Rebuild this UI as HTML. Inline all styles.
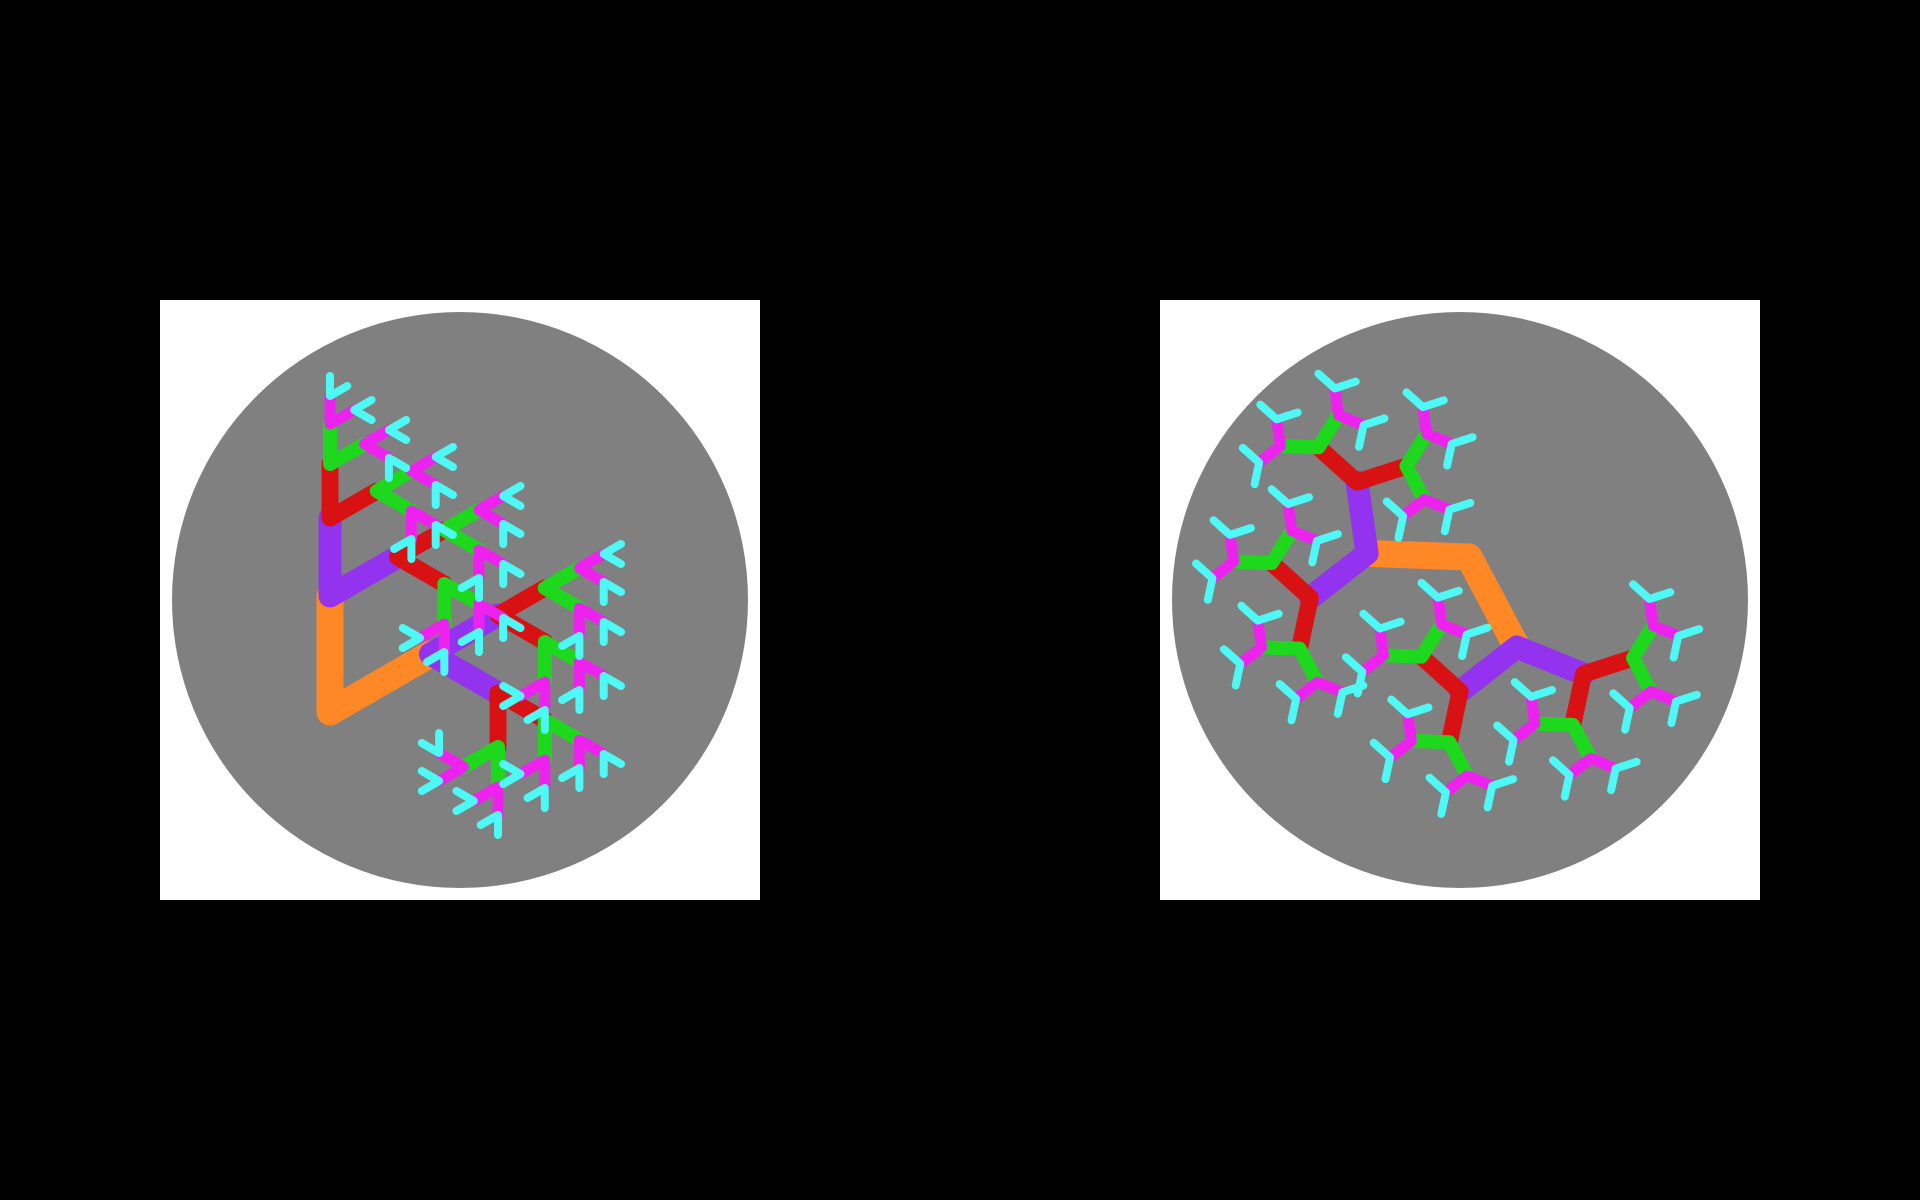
<!DOCTYPE html>
<html><head><meta charset="utf-8">
<style>
html,body{margin:0;padding:0;background:#000;}
svg{display:block;}
</style></head>
<body>
<svg id="chart" width="1920" height="1200" viewBox="0 0 1920 1200" xmlns="http://www.w3.org/2000/svg">
  <rect x="0" y="0" width="1920" height="1200" fill="#000"/>
  <rect x="160" y="300" width="600" height="600" fill="#fff"/>
  <circle cx="460" cy="600" r="288" fill="#808080"/>
  <rect x="1160" y="300" width="600" height="600" fill="#fff"/>
  <circle cx="1460" cy="600" r="288" fill="#808080"/>
  <g id="left-tree"></g>
  <g id="right-tree"></g>
</svg>
<script>
const levelColors = ["#ff8826","#9333f0","#d81212","#1ed81e","#ee22ee","#4ef8f4"];
const levelWidths = [27,23,17,14,11,8];
const leftLengths = [116,78,54,40,28,20];
const rightLengths = [102,72,52,38,27,22];
const leftRoot = [330,712];
const rightRoot = [1469,557];

const NS = "http://www.w3.org/2000/svg";
const levels = levelColors.map(()=>[]);

function seg(x1,y1,a,len){
  const r = a*Math.PI/180;
  return [x1,y1,x1+len*Math.cos(r),y1-len*Math.sin(r)];
}

function leftV(x,y,th,lvl){
  if(lvl>=levelColors.length) return;
  const L = leftLengths[lvl];
  const s1 = seg(x,y,th,L), s2 = seg(x,y,th-60,L);
  levels[lvl].push({g:'left',p:[x,y,s1,s2]});
  leftV(s1[2],s1[3],th,lvl+1);
  leftV(s2[2],s2[3],th-60,lvl+1);
}
leftV(leftRoot[0],leftRoot[1],90,0);

function rightY(x,y,inc,lvl){
  if(lvl>=levelColors.length) return;
  const L = rightLengths[lvl];
  const b = inc-20;
  const s1 = seg(x,y,b+60,L), s2 = seg(x,y,b-60,L);
  levels[lvl].push({g:'right',p:[x,y,s1,s2]});
  rightY(s1[2],s1[3],b+60,lvl+1);
  rightY(s2[2],s2[3],b-60,lvl+1);
}
rightY(rightRoot[0],rightRoot[1],258,0);

const gl = document.getElementById('left-tree');
const gr = document.getElementById('right-tree');
levels.forEach((arr,lvl)=>{
  arr.forEach(item=>{
    const [x,y,s1,s2] = item.p;
    const el = document.createElementNS(NS,'path');
    el.setAttribute('d',`M${s1[2].toFixed(1)},${s1[3].toFixed(1)} L${x.toFixed(1)},${y.toFixed(1)} L${s2[2].toFixed(1)},${s2[3].toFixed(1)}`);
    el.setAttribute('fill','none');
    el.setAttribute('stroke',levelColors[lvl]);
    el.setAttribute('stroke-width',levelWidths[lvl]);
    el.setAttribute('stroke-linecap','round');
    el.setAttribute('stroke-linejoin','round');
    
    
    (item.g==='left'?gl:gr).appendChild(el);
  });
});
</script>
</body></html>
